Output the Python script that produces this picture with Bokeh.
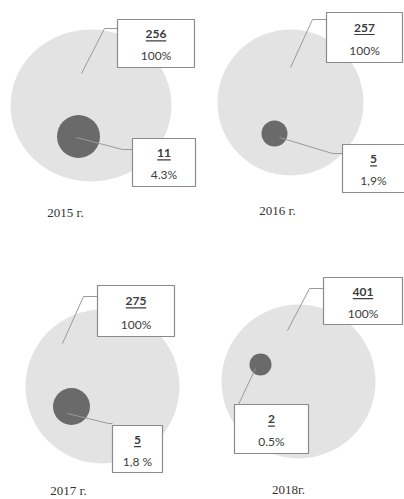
from bokeh.plotting import figure
from bokeh.models import Range1d
from bokeh.core.properties import value
from bokeh.embed import file_html
from bokeh.resources import INLINE

# --- data ---
years = ["2015 г.", "2016 г.", "2017 г.", "2018г."]
totals = [256, 257, 275, 401]
total_pct = ["100%", "100%", "100%", "100%"]
parts = [11, 5, 5, 2]
part_pct = ["4.3%", "1,9%", "1,8 %", "0.5%"]

# --- layout (page pixels, y grows downward) ---
big_x = [90.5, 290, 102, 298]
big_y = [105, 102, 386, 381]
big_w = [161, 146, 154, 154]
big_h = [152, 146, 154, 154]
small_x = [78, 274, 71, 260]
small_y = [136, 133, 406, 364]
small_r = [21.5, 13, 18.5, 11]

# label boxes: left, top, right, bottom
tbox = [(117, 19, 194, 67), (326, 12, 402, 62), (97, 285, 174, 336), (323, 277, 402, 324)]
pbox = [(132, 138, 195, 186), (342, 144, 406, 192), (112, 425, 162, 472), (234, 404, 308, 453)]
# leader lines (polyline points)
tlead = [[(81, 73), (104, 28), (117, 28)], [(290, 67), (312, 19), (326, 19)],
         [(62, 343), (83, 296), (97, 296)], [(287, 330), (309, 288), (323, 288)]]
plead = [[(76, 137), (122, 149), (132, 149)], [(279, 137), (332, 153), (342, 153)],
         [(67, 413), (108, 423), (112, 423)], [(255, 368), (238, 404)]]
year_xy = [(65, 212), (277, 210), (68, 490), (288, 489)]

W, H = 404, 499
p = figure(width=W, height=H, output_backend="svg", toolbar_location=None,
           x_range=Range1d(0, W), y_range=Range1d(H, 0), min_border=0)
p.axis.visible = False
p.grid.visible = False
p.outline_line_color = None
p.background_fill_color = "white"
p.border_fill_color = "white"

LIGHT = "#e3e3e3"
DARK = "#6a6a6a"
LINE = "#9a9a9a"
BORDER = "#8a8a8a"
TXT = "#3c3c3c"

p.ellipse(x=big_x, y=big_y, width=big_w, height=big_h, fill_color=LIGHT, line_color=None)
p.circle(x=small_x, y=small_y, radius=small_r, fill_color=DARK, line_color=None)

# leader lines
xs = [[pt[0] for pt in l] for l in tlead + plead]
ys = [[pt[1] for pt in l] for l in tlead + plead]
p.multi_line(xs=xs, ys=ys, line_color=LINE, line_width=1)

# boxes
boxes = tbox + pbox
p.quad(left=[b[0] for b in boxes], top=[b[1] for b in boxes],
       right=[b[2] for b in boxes], bottom=[b[3] for b in boxes],
       fill_color="white", line_color=BORDER, line_width=1.2)

# texts inside boxes
num_txt, num_x, num_y = [], [], []
pct_txt, pct_x, pct_y = [], [], []
ul_x0, ul_x1, ul_y = [], [], []
for i in range(4):
    for b, n, pc in ((tbox[i], totals[i], total_pct[i]), (pbox[i], parts[i], part_pct[i])):
        cx = (b[0] + min(b[2], W)) / 2
        h = b[3] - b[1]
        ny = b[1] + h * 0.30
        py = b[1] + h * 0.76
        s = str(n)
        num_txt.append(s); num_x.append(cx); num_y.append(ny)
        pct_txt.append(pc); pct_x.append(cx); pct_y.append(py)
        half = len(s) * 3.4
        ul_x0.append(cx - half); ul_x1.append(cx + half); ul_y.append(ny + 7)

p.text(x=num_x, y=num_y, text=num_txt, text_align="center", text_baseline="middle",
       text_font=value("Lato"), text_font_size="12px", text_font_style="bold", text_color=TXT)
p.segment(x0=ul_x0, y0=ul_y, x1=ul_x1, y1=ul_y, line_color=TXT, line_width=1.2)
p.text(x=pct_x, y=pct_y, text=pct_txt, text_align="center", text_baseline="middle",
       text_font=value("Lato"), text_font_size="12px", text_color=TXT)

# year captions
p.text(x=[c[0] for c in year_xy], y=[c[1] for c in year_xy], text=years,
       text_align="center", text_baseline="middle",
       text_font=value("Liberation Serif"), text_font_size="13px", text_color="#333333")

open("out.html", "w").write(file_html(p, INLINE))
